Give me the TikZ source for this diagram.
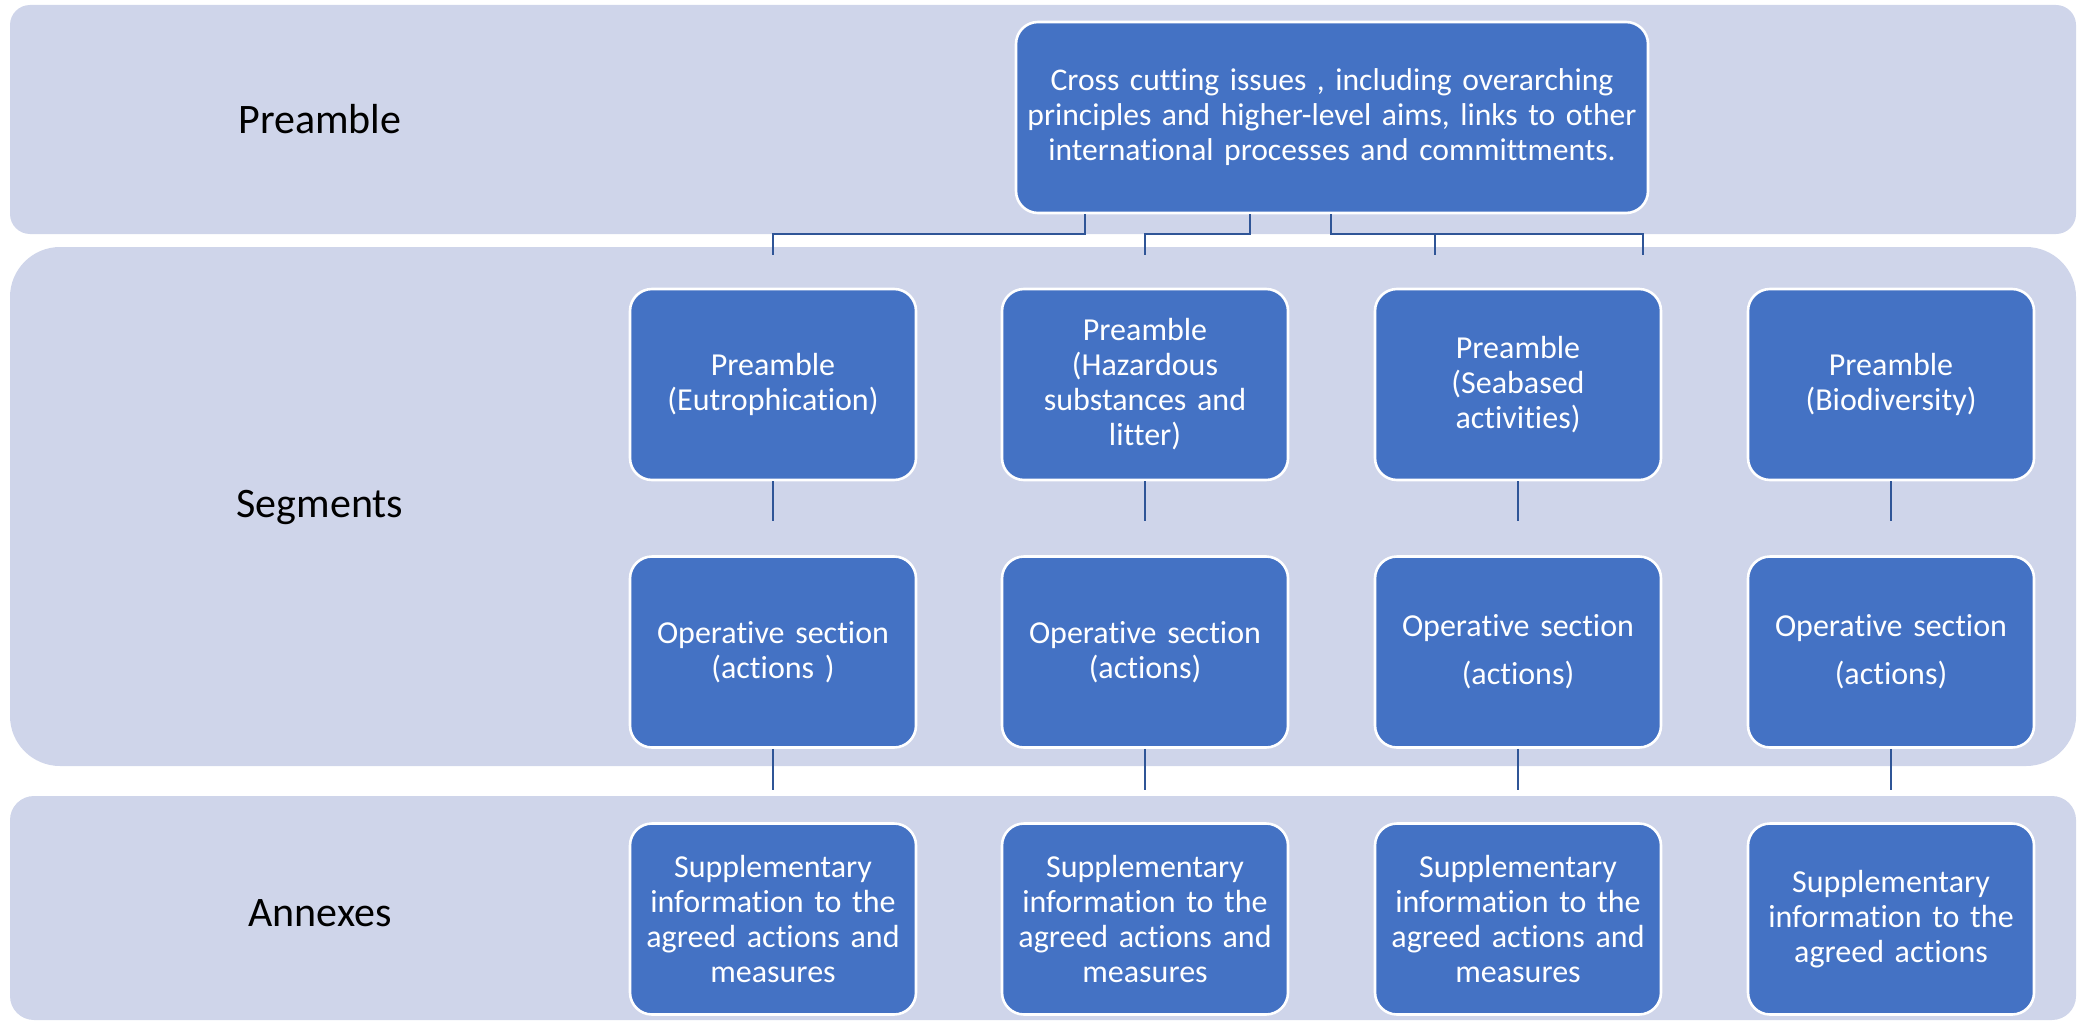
\documentclass[tikz,border=0pt]{standalone}
\usepackage{fontspec}
\setmainfont{Carlito}[Ligatures=NoCommon]
\definecolor{bandfill}{HTML}{CFD5EA}
\definecolor{boxfill}{HTML}{4472C4}
\definecolor{connc}{HTML}{2F5597}
\begin{document}
\begin{tikzpicture}[x=0.5pt,y=-0.5pt,
  band/.style={fill=bandfill,draw=none},
  lbl/.style={text=black,font=\fontsize{21}{24}\selectfont},
  bluebox/.style={fill=boxfill,draw=white,line width=1.3pt,rounded corners=11pt,
    minimum width=143pt,minimum height=95.5pt,text width=135pt,align=center,inner sep=0pt,
    text=white,font=\fontsize{16}{17.5}\selectfont},
  conn/.style={draw=connc,line width=1.3pt}]
\useasboundingbox (0,0) rectangle (2080,1022);
% bands
\fill[band,rounded corners=10pt] (10,5) rectangle (2076,234);
\fill[band,rounded corners=25pt] (10,247) rectangle (2076,766);
\fill[band,rounded corners=12pt] (10,796) rectangle (2076,1020);
% labels
\node[lbl] (lp) at (320,119) {Preamble};
\node[lbl] (ls) at (320,507) {Segments};
\node[lbl] (la) at (320,913) {Annexes};
% top box
\node[bluebox,minimum width=316pt,text width=310pt,font=\fontsize{15.8}{17.5}\selectfont] (top) at (1332,117.5)
  {Cross cutting issues , including overarching principles and higher-level aims, links to other international processes and committments.};
% column boxes
\node[bluebox] (p1) at (773,384.5) {Preamble\\(Eutrophication)};
\node[bluebox] (p2) at (1145,384.5) {Preamble\\(Hazardous\\substances and\\litter)};
\node[bluebox] (p3) at (1518,384.5) {Preamble\\(Seabased\\activities)};
\node[bluebox] (p4) at (1891,384.5) {Preamble\\(Biodiversity)};
\node[bluebox] (o1) at (773,652) {Operative section\\(actions )};
\node[bluebox] (o2) at (1145,652) {Operative section\\(actions)};
\node[bluebox] (o3) at (1518,652) {Operative section\\[6.5pt](actions)};
\node[bluebox] (o4) at (1891,652) {Operative section\\[6.5pt](actions)};
\node[bluebox] (a1) at (773,919) {Supplementary\\information to the\\agreed actions and\\measures};
\node[bluebox] (a2) at (1145,919) {Supplementary\\information to the\\agreed actions and\\measures};
\node[bluebox] (a3) at (1518,919) {Supplementary\\information to the\\agreed actions and\\measures};
\node[bluebox] (a4) at (1891,919) {Supplementary\\information to the\\agreed actions};
% helper coordinates
\coordinate (xa) at (1085,0);
\coordinate (xb) at (1250,0);
\coordinate (xc) at (1331,0);
\coordinate (xd) at (1435,0);
\coordinate (xe) at (1643,0);
\coordinate (ybus) at (0,234);
\coordinate (yend) at (0,255);
\coordinate (ystub) at (0,521);
\coordinate (ylow) at (0,790);
% top connectors
\draw[conn] (top.south -| xa) -- (xa |- ybus) -| (p1.north |- yend);
\draw[conn] (top.south -| xb) -- (xb |- ybus) -| (p2.north |- yend);
\draw[conn] (top.south -| xc) -- (xc |- ybus) -| (xe |- yend);
\draw[conn] (xd |- ybus) -- (xd |- yend);
% column stubs
\foreach \i in {1,2,3,4}{
  \draw[conn] (p\i.south) -- (p\i.south |- ystub);
  \draw[conn] (o\i.south) -- (o\i.south |- ylow);
}
\end{tikzpicture}
\end{document}
